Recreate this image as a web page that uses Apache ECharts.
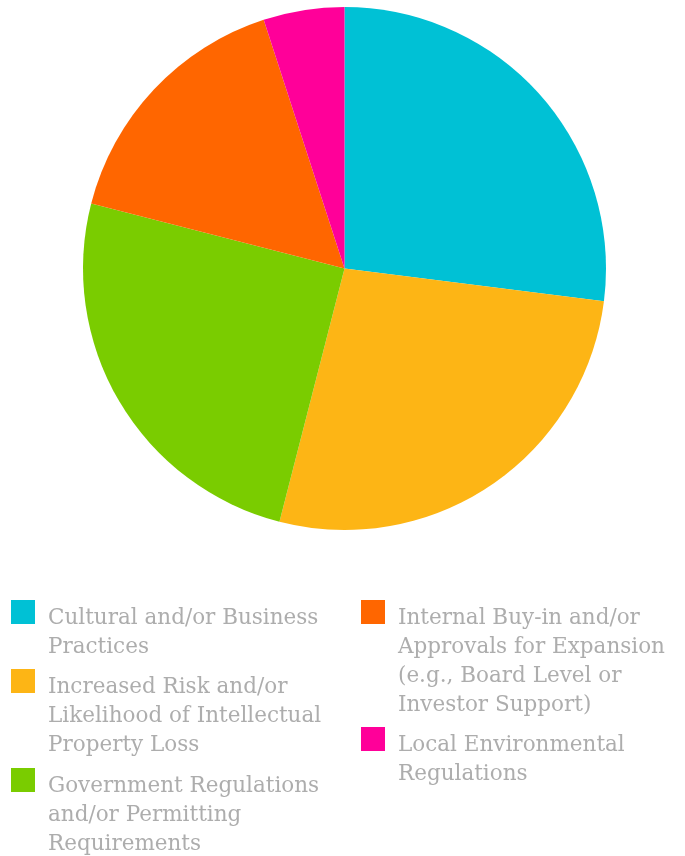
<!DOCTYPE html>
<html>
<head>
<meta charset="utf-8">
<script src="https://cdn.jsdelivr.net/npm/echarts@6/dist/echarts.min.js"></script>
<style>
  html, body { margin: 0; padding: 0; background: #ffffff; }
  #chart { width: 685px; height: 856px; }
</style>
</head>
<body>
<div id="chart"></div>
<script>
// Barriers to expansion: share of responses
const categories = [
  'Cultural and/or Business Practices',
  'Increased Risk and/or Likelihood of Intellectual Property Loss',
  'Government Regulations and/or Permitting Requirements',
  'Internal Buy-in and/or Approvals for Expansion (e.g., Board Level or Investor Support)',
  'Local Environmental Regulations'
];
const shares = [27, 27, 25, 16, 5];
const sliceColors = ['#00C1D5', '#FDB515', '#7ACC00', '#FF6600', '#FF0099'];

// Legend text, broken into lines
const legendLines = [
  ['Cultural and/or Business', 'Practices'],
  ['Increased Risk and/or', 'Likelihood of Intellectual', 'Property Loss'],
  ['Government Regulations', 'and/or Permitting', 'Requirements'],
  ['Internal Buy-in and/or', 'Approvals for Expansion', '(e.g., Board Level or', 'Investor Support)'],
  ['Local Environmental', 'Regulations']
];

// Swatch placement for each legend entry: [left, top of swatch]
const legendSlots = [[11, 600], [11, 669], [11, 768], [361, 600], [361, 727]];

const LINE_H = 29;
const SWATCH = 24;
const TEXT_DROP = 6; // first text line sits slightly below the swatch centre

// One legend per entry. The label block is vertically centred on the swatch,
// so an empty leading line of the right height pushes the first text line
// down beside the swatch.
function makeLegend(i) {
  const n = legendLines[i].length;
  const leadH = 2 * TEXT_DROP + (n - 1) * LINE_H;
  const blockH = leadH + n * LINE_H;
  return {
    orient: 'vertical',
    left: legendSlots[i][0],
    top: legendSlots[i][1] + SWATCH / 2 - blockH / 2,
    padding: 0,
    itemWidth: SWATCH,
    itemHeight: SWATCH,
    icon: 'rect',
    selectedMode: false,
    data: [categories[i]],
    textStyle: {
      color: '#ADADAD',
      fontFamily: 'DejaVu Serif',
      fontSize: 21.5,
      lineHeight: LINE_H,
      padding: [0, 0, 0, 8],
      rich: {
        lead: { lineHeight: leadH, fontSize: 4 }
      }
    },
    formatter: function () { return '{lead| }\n' + legendLines[i].join('\n'); }
  };
}

const chart = echarts.init(document.getElementById('chart'), null, { renderer: 'canvas' });
chart.setOption({
  animation: false,
  color: sliceColors,
  legend: categories.map(function (_, i) { return makeLegend(i); }),
  series: [{
    type: 'pie',
    center: [344.5, 268.5],
    radius: 261.5,
    startAngle: 90,
    clockwise: true,
    label: { show: false },
    labelLine: { show: false },
    emphasis: { disabled: true },
    itemStyle: { borderWidth: 0 },
    data: categories.map(function (name, i) { return { name: name, value: shares[i] }; })
  }]
});
</script>
</body>
</html>
